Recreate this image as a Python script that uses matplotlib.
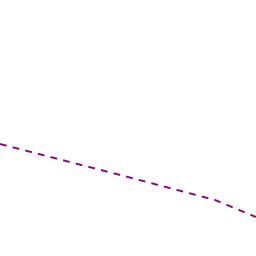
import matplotlib
matplotlib.use('Agg')
import matplotlib.pyplot as plt

# series
x_vals = [0, 64, 128, 215, 256]
y_vals = [144, 160.5, 177, 200, 217]


def main():
    fig = plt.figure(figsize=(2.56, 2.56), dpi=100)
    ax = fig.add_axes([0, 0, 1, 1])
    ax.plot(x_vals, y_vals, ls=(0, (3.5, 3.2)), lw=1.4, c='#850a6e')
    ax.set_xlim(0, 256)
    ax.set_ylim(256, 0)
    ax.axis('off')
    fig.savefig('out.png', dpi=100)


if __name__ == '__main__':
    main()
